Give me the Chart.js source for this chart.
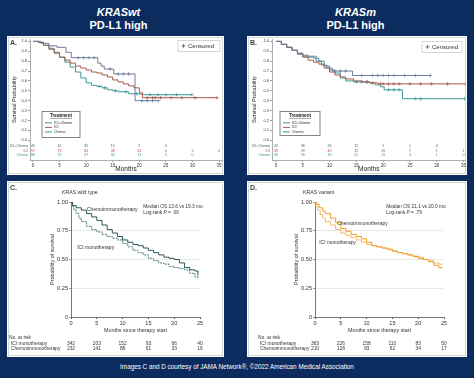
<!DOCTYPE html>
<html><head><meta charset="utf-8">
<script src="https://cdn.jsdelivr.net/npm/chart.js@4.4.1/dist/chart.umd.min.js"></script>
<style>
html,body{margin:0;padding:0}
body{width:474px;height:378px;background:#0c2b5e;position:relative;overflow:hidden;font-family:"Liberation Sans",Arial,sans-serif}
.box{position:absolute;background:#fff;outline:1px solid #d4d4d4;outline-offset:-2px}
.hd{position:absolute;color:#fff;font-weight:bold;font-size:11px;line-height:13px;text-align:center}
.lbl{position:absolute;font-size:7px;font-weight:bold;color:#444}
.sub{position:absolute;font-size:5.2px;color:#333}
canvas{position:absolute}
.foot{position:absolute;left:0;width:474px;top:362px;text-align:center;color:#fff;font-size:8px;line-height:10px;transform:scaleX(0.79);transform-origin:237px 0}
</style></head>
<body>
<div class="hd" style="left:0;top:6px;width:237px"><i>KRASwt</i><br>PD-L1 high</div>
<div class="hd" style="left:237px;top:6px;width:237px"><i>KRASm</i><br>PD-L1 high</div>
<div class="box" style="left:7px;top:36px;width:217px;height:139px"></div>
<div class="box" style="left:247px;top:36px;width:220px;height:139px"></div>
<div class="box" style="left:7px;top:181px;width:217px;height:176px"></div>
<div class="box" style="left:247px;top:181px;width:220px;height:176px"></div>
<canvas id="cA" width="217" height="139" style="left:7px;top:36px"></canvas>
<canvas id="cB" width="220" height="139" style="left:247px;top:36px"></canvas>
<canvas id="cC" width="217" height="176" style="left:7px;top:181px"></canvas>
<canvas id="cD" width="220" height="176" style="left:247px;top:181px"></canvas>
<div class="lbl" style="left:10px;top:39px">A.</div>
<div class="lbl" style="left:250px;top:39px">B.</div>
<div class="lbl" style="left:10px;top:184px">C.</div>
<div class="lbl" style="left:250px;top:184px">D.</div>
<div class="sub" style="left:62px;top:189px">KRAS wild type</div>
<div class="sub" style="left:303px;top:189px">KRAS variant</div>
<div class="foot">Images C and D courtesy of JAMA Network®, ©2022 American Medical Association</div>
<script>
// ---------- data ----------
const monthTicksAB = [0, 5, 10, 15, 20, 25, 30, 35];
const probTicksAB = [0, 0.1, 0.2, 0.3, 0.4, 0.5, 0.6, 0.7, 0.8, 0.9, 1.0];
const monthTicksCD = [0, 5, 10, 15, 20, 25];
const probTicksCD = [0, 0.25, 0.5, 0.75, 1.0];
const seriesAB = ['ICI+Chemo', 'ICI', 'Chemo'];
const seriesCD = ['ICI monotherapy', 'Chemoimmunotherapy'];

// Panel A (KRASwt, PD-L1 high)
const aIciChemoT = [0, 1.5, 3, 4.5, 6.2, 7.2, 12.2, 12.8, 13.4, 15.2, 19.2, 23.6];
const aIciChemoS = [1, 0.98, 0.955, 0.94, 0.89, 0.835, 0.78, 0.75, 0.72, 0.67, 0.40, 0.40];
const aIciT = [0, 1, 2, 3, 4, 5, 6, 7, 8, 9, 10, 11, 12, 13, 14, 15, 16, 17, 18, 19, 20, 20.6, 34.6];
const aIciS = [1, 0.99, 0.96, 0.92, 0.88, 0.84, 0.81, 0.78, 0.75, 0.73, 0.71, 0.69, 0.68, 0.66, 0.64, 0.61, 0.59, 0.57, 0.55, 0.53, 0.48, 0.43, 0.43];
const aChemoT = [0, 1, 2, 3, 4, 5, 6, 7, 8, 9, 10, 11, 12, 13, 14, 15, 16, 18, 20, 21, 29.9];
const aChemoS = [1, 0.99, 0.96, 0.93, 0.89, 0.84, 0.79, 0.74, 0.69, 0.63, 0.58, 0.555, 0.545, 0.53, 0.51, 0.50, 0.49, 0.47, 0.465, 0.46, 0.46];
const aIciChemoCens = [8.5, 9.5, 10.5, 11.5, 14.5, 16, 17, 18, 20.5, 21.5, 22.5, 23.6];
const aIciCens = [21.5, 22.5, 23, 24, 26, 28, 30.5, 34.6];
const aChemoCens = [12.5, 13.5, 15.5, 17.5, 19.5, 22, 23.5, 25, 27, 29.9];
const aRiskIciChemo = [45, 42, 35, 15, 2, 0];
const aRiskIci = [97, 79, 65, 48, 24, 5, 2, 0];
const aRiskChemo = [86, 72, 47, 30, 13, 3, 0];

// Panel B (KRASm, PD-L1 high)
const bIciChemoT = [0, 1, 2, 3, 4, 5, 6, 7.5, 8.5, 9.5, 10.5, 14.3, 28.8];
const bIciChemoS = [1, 0.97, 0.94, 0.91, 0.88, 0.86, 0.85, 0.80, 0.76, 0.73, 0.70, 0.655, 0.655];
const bIciT = [0, 1, 2, 3, 4, 5, 6, 7, 8, 9, 10, 11, 12, 13, 14.5, 16, 17.5, 19, 35.5];
const bIciS = [1, 0.97, 0.94, 0.91, 0.87, 0.84, 0.81, 0.79, 0.77, 0.73, 0.69, 0.66, 0.64, 0.62, 0.60, 0.59, 0.58, 0.57, 0.57];
const bChemoT = [0, 1, 2, 3, 4, 5, 6, 7, 8, 9, 10, 11, 12, 13, 14.5, 17.5, 18.5, 19.5, 20.2, 23.6, 35.2];
const bChemoS = [1, 0.97, 0.94, 0.91, 0.88, 0.85, 0.84, 0.83, 0.80, 0.75, 0.71, 0.68, 0.63, 0.60, 0.59, 0.58, 0.56, 0.54, 0.51, 0.42, 0.42];
const bIciChemoCens = [11, 12, 13, 16, 18, 19, 20, 21, 22, 24, 26, 28.8];
const bIciCens = [17, 18, 19.5, 20, 21, 22, 23, 25, 27, 29, 32, 35.5];
const bChemoCens = [15, 16, 17, 21, 22, 23, 26, 27, 35.2];
const bRiskIciChemo = [42, 36, 26, 12, 5, 1, 0];
const bRiskIci = [59, 49, 40, 32, 20, 7, 1, 1];
const bRiskChemo = [69, 56, 43, 25, 15, 4, 1, 0];

// Panel C (KRAS wild type)
const cChemoT = [0, 0.3, 1, 2, 3, 4, 5, 6, 7, 8, 9, 10, 11, 12, 13, 14, 15, 16, 17, 18, 19, 20, 21, 22, 23, 24, 24.6];
const cChemoS = [1, 0.97, 0.95, 0.93, 0.90, 0.87, 0.84, 0.80, 0.76, 0.73, 0.70, 0.67, 0.65, 0.63, 0.62, 0.60, 0.58, 0.56, 0.54, 0.52, 0.51, 0.50, 0.47, 0.43, 0.41, 0.40, 0.36];
const cIciT = [0, 0.3, 0.6, 1, 1.5, 2, 3, 4, 5, 6, 7, 8, 9, 10, 11, 12, 13, 14, 15, 16, 17, 18, 19, 20, 21, 22, 23, 24, 24.6];
const cIciS = [1, 0.96, 0.93, 0.90, 0.86, 0.83, 0.79, 0.76, 0.74, 0.72, 0.70, 0.685, 0.67, 0.64, 0.61, 0.58, 0.56, 0.54, 0.51, 0.49, 0.47, 0.46, 0.44, 0.43, 0.42, 0.41, 0.38, 0.35, 0.33];
const cRiskIci = [342, 203, 152, 93, 66, 40];
const cRiskChemo = [232, 141, 88, 61, 33, 16];

// Panel D (KRAS variant)
const dChemoT = [0, 0.3, 0.8, 1.5, 2, 3, 4, 5, 6, 7, 8, 9, 10, 11, 12, 13, 14, 15, 16, 17, 18, 19, 20, 21, 22, 23, 24, 24.6];
const dChemoS = [1, 0.98, 0.95, 0.92, 0.90, 0.86, 0.82, 0.77, 0.745, 0.72, 0.70, 0.68, 0.65, 0.62, 0.61, 0.60, 0.59, 0.575, 0.56, 0.55, 0.54, 0.525, 0.51, 0.50, 0.48, 0.45, 0.43, 0.42];
const dIciT = [0, 0.2, 0.5, 1, 1.5, 2, 3, 4, 5, 6, 7, 8, 9, 10, 11, 12, 13, 14, 15, 16, 17, 18, 19, 20, 21, 22, 23, 24, 24.6];
const dIciS = [1, 0.96, 0.93, 0.89, 0.86, 0.83, 0.80, 0.76, 0.73, 0.71, 0.69, 0.67, 0.65, 0.63, 0.62, 0.61, 0.60, 0.585, 0.57, 0.56, 0.55, 0.54, 0.53, 0.52, 0.50, 0.49, 0.47, 0.46, 0.455];
const dRiskIci = [363, 226, 158, 110, 83, 50];
const dRiskChemo = [210, 128, 93, 62, 34, 17];

// ---------- helpers ----------
const FONT = '"Liberation Sans", Arial, sans-serif';
const COL_GRAY = '#6f7c9a', COL_RED = '#a8574b', COL_TEAL = '#3c9a9a';
const COL_C1 = '#2c5759', COL_C2 = '#4d7b7b', COL_D1 = '#ee9d2a', COL_D2 = '#f6bd6a';

function pts(T, S) { return T.map((t, i) => ({x: t, y: S[i]})); }
function survAt(T, S, t) { let v = S[0]; for (let i = 0; i < T.length; i++) if (T[i] <= t) v = S[i]; return v; }
function cens(T, S, C) { return C.map(t => ({x: t, y: survAt(T, S, t)})); }
function line(label, T, S, color, dash) {
  return {label, data: pts(T, S), borderColor: color, borderWidth: 1, stepped: true, pointRadius: 0, fill: false, borderDash: dash || []};
}
function censSet(T, S, C, color) {
  return {label: 'cens', data: cens(T, S, C), showLine: false, pointStyle: 'cross', pointRadius: 1.8, borderColor: color, borderWidth: 0.7};
}

function abPlugin(key, rows, leg, cbox) {
  return {id: 'ab' + key, afterDraw(chart) {
    const {ctx, scales: {x, y}, chartArea: ca} = chart;
    ctx.save();
    const base = y.getPixelForValue(0);
    ctx.textBaseline = 'middle';
    rows.forEach((r, ri) => {
      const py = base + 6 + ri * 4.5;
      ctx.fillStyle = r.color;
      ctx.font = '3.6px ' + FONT;
      ctx.textAlign = 'right';
      ctx.fillText(r.name, ca.left - 2, py);
      ctx.textAlign = 'center';
      r.values.forEach((v, i) => ctx.fillText(String(v), x.getPixelForValue(monthTicksAB[i]), py));
    });
    // Treatment legend
    const lx = ca.left + leg.dx, ly = ca.top + leg.dy;
    ctx.fillStyle = '#fff'; ctx.strokeStyle = '#666'; ctx.lineWidth = 0.8;
    ctx.fillRect(lx, ly, leg.w, leg.h); ctx.strokeRect(lx, ly, leg.w, leg.h);
    ctx.fillStyle = '#222'; ctx.font = 'bold 4.6px ' + FONT; ctx.textAlign = 'center';
    ctx.fillText('Treatment', lx + leg.w / 2, ly + 4.5);
    const tw = ctx.measureText('Treatment').width;
    ctx.strokeStyle = '#222'; ctx.lineWidth = 0.4;
    ctx.beginPath(); ctx.moveTo(lx + leg.w / 2 - tw / 2, ly + 7); ctx.lineTo(lx + leg.w / 2 + tw / 2, ly + 7); ctx.stroke();
    ctx.font = '3.6px ' + FONT; ctx.textAlign = 'left';
    chart.data.datasets.filter(d => d.label !== 'cens').forEach((d, i) => {
      const py = ly + 11.5 + i * 4.5;
      ctx.strokeStyle = d.borderColor; ctx.lineWidth = 1;
      ctx.beginPath(); ctx.moveTo(lx + 3, py); ctx.lineTo(lx + 10, py); ctx.stroke();
      ctx.fillStyle = '#222'; ctx.fillText(d.label, lx + 12, py);
    });
    // Censored box
    const cx = ca.left + cbox.dx, cy = ca.top + cbox.dy;
    ctx.fillStyle = '#fff'; ctx.strokeStyle = '#bbb'; ctx.lineWidth = 0.6;
    ctx.fillRect(cx, cy, cbox.w, 11); ctx.strokeRect(cx, cy, cbox.w, 11);
    ctx.strokeStyle = '#444'; ctx.lineWidth = 0.7;
    ctx.beginPath(); ctx.moveTo(cx + 3.5, cy + 5.5); ctx.lineTo(cx + 7.5, cy + 5.5); ctx.moveTo(cx + 5.5, cy + 3.5); ctx.lineTo(cx + 5.5, cy + 7.5); ctx.stroke();
    ctx.fillStyle = '#333'; ctx.font = '6px ' + FONT; ctx.textAlign = 'left';
    ctx.fillText('Censored', cx + 10, cy + 5.8);
    ctx.restore();
  }};
}

function cdPlugin(key, rowX, rows, notes) {
  return {id: 'cd' + key, afterDraw(chart) {
    const {ctx, scales: {x, y}} = chart;
    ctx.save();
    ctx.fillStyle = '#333'; ctx.textBaseline = 'middle';
    notes.forEach(n => {
      let px = x.getPixelForValue(n.x); const py = y.getPixelForValue(n.y);
      ctx.textAlign = 'left';
      n.parts.forEach(p => {
        ctx.font = (p.i ? 'italic ' : '') + n.size + 'px ' + FONT;
        ctx.fillText(p.t, px, py);
        px += ctx.measureText(p.t).width;
      });
    });
    const base = y.getPixelForValue(0);
    ctx.font = '4.9px ' + FONT;
    ctx.textAlign = 'left';
    ctx.fillText('No. at risk', rowX - 2, base + 21);
    rows.forEach((r, ri) => {
      const py = base + 27 + ri * 4.6;
      ctx.textAlign = 'left'; ctx.fillText(r.name, rowX, py);
      ctx.textAlign = 'center';
      r.values.forEach((v, i) => ctx.fillText(String(v), x.getPixelForValue(monthTicksCD[i]), py));
    });
    ctx.restore();
  }};
}

function make(id, datasets, scales, padding, plugin) {
  return new Chart(document.getElementById(id), {
    type: 'line',
    data: {datasets},
    options: {
      responsive: false, animation: false, events: [],
      layout: {autoPadding: false, padding},
      plugins: {legend: {display: false}, tooltip: {enabled: false}},
      scales
    },
    plugins: [plugin]
  });
}

function abScales(xmin, xmax, yw) {
  return {
    x: {type: 'linear', min: xmin, max: xmax,
      afterBuildTicks: a => { a.ticks = monthTicksAB.map(v => ({value: v})); },
      afterFit: a => { a.height = 15; },
      grid: {drawOnChartArea: false, drawTicks: true, tickLength: 2, color: '#999'},
      border: {color: '#999', width: 0.8},
      ticks: {font: {size: 4.5, family: FONT}, color: '#333', padding: 1, maxRotation: 0, autoSkip: false},
      title: {display: true, text: 'Months', font: {size: 6.5, family: FONT}, color: '#222', padding: {top: 0, bottom: 2}}},
    y: {type: 'linear', min: -0.2, max: 1.02,
      afterBuildTicks: a => { a.ticks = probTicksAB.map(v => ({value: v})); },
      afterFit: a => { a.width = yw; },
      grid: {drawOnChartArea: false, tickLength: 2, color: c => (c.tick && c.tick.value < 0) ? 'rgba(0,0,0,0)' : '#999'},
      border: {color: '#999', width: 0.8},
      ticks: {font: {size: 4, family: FONT}, color: '#444', padding: 1, callback: v => v < -0.001 ? '' : v.toFixed(1)},
      title: {display: true, text: 'Survival Probability', font: {size: 5.5, family: FONT}, color: '#222', padding: {top: 4, bottom: 0}}}
  };
}

function cdScales(yTitlePad) {
  return {
    x: {type: 'linear', min: 0, max: 25,
      afterBuildTicks: a => { a.ticks = monthTicksCD.map(v => ({value: v})); },
      afterFit: a => { a.height = 40; },
      grid: {drawOnChartArea: false, drawTicks: true, tickLength: 2, color: '#555'},
      border: {color: '#555', width: 0.8},
      ticks: {font: {size: 5.6, family: FONT}, color: '#333', padding: 1, maxRotation: 0, autoSkip: false},
      title: {display: true, text: 'Months since therapy start', font: {size: 5.4, family: FONT}, color: '#333', padding: {top: 0, bottom: 23}}},
    y: {type: 'linear', min: 0, max: 1,
      afterBuildTicks: a => { a.ticks = probTicksCD.map(v => ({value: v})); },
      afterFit: a => { a.width = yTitlePad.w; },
      grid: {drawOnChartArea: true, tickLength: 2, color: c => (c.tick && c.tick.value > 0 && c.tick.value < 1) ? '#dcdcdc' : 'rgba(0,0,0,0)', tickColor: '#555', lineWidth: 0.6},
      border: {color: '#555', width: 0.8},
      ticks: {font: {size: 5.6, family: FONT}, color: '#333', padding: 1, callback: v => v === 0 ? '0' : v.toFixed(2)},
      title: {display: true, text: 'Probability of survival', font: {size: 5.4, family: FONT}, color: '#333', padding: {top: yTitlePad.p, bottom: 0}}}
  };
}

// Panel A
make('cA', [
  line(seriesAB[0], aIciChemoT, aIciChemoS, COL_GRAY),
  line(seriesAB[1], aIciT, aIciS, COL_RED),
  line(seriesAB[2], aChemoT, aChemoS, COL_TEAL),
  censSet(aIciChemoT, aIciChemoS, aIciChemoCens, COL_GRAY),
  censSet(aIciT, aIciS, aIciCens, COL_RED),
  censSet(aChemoT, aChemoS, aChemoCens, COL_TEAL)
], abScales(-0.56, 35.56, 23), {top: 1, right: 2, left: 0, bottom: 0},
abPlugin('A', [
  {name: seriesAB[0], color: '#555b6e', values: aRiskIciChemo},
  {name: seriesAB[1], color: '#b04a3c', values: aRiskIci},
  {name: seriesAB[2], color: '#3a9494', values: aRiskChemo}
], {dx: 12, dy: 72, w: 38, h: 26}, {dx: 148, dy: 1, w: 42}));

// Panel B
make('cB', [
  line(seriesAB[0], bIciChemoT, bIciChemoS, COL_GRAY),
  line(seriesAB[1], bIciT, bIciS, COL_RED),
  line(seriesAB[2], bChemoT, bChemoS, COL_TEAL),
  censSet(bIciChemoT, bIciChemoS, bIciChemoCens, COL_GRAY),
  censSet(bIciT, bIciS, bIciCens, COL_RED),
  censSet(bChemoT, bChemoS, bChemoCens, COL_TEAL)
], abScales(-0.745, 35.38, 25), {top: 1, right: 1, left: 0, bottom: 0},
abPlugin('B', [
  {name: seriesAB[0], color: '#555b6e', values: bRiskIciChemo},
  {name: seriesAB[1], color: '#b04a3c', values: bRiskIci},
  {name: seriesAB[2], color: '#3a9494', values: bRiskChemo}
], {dx: 8, dy: 72, w: 40, h: 24}, {dx: 150, dy: 2, w: 40}));

// Panel C
make('cC', [
  line(seriesCD[1], cChemoT, cChemoS, COL_C1),
  line(seriesCD[0], cIciT, cIciS, COL_C2, [2, 1])
], cdScales({w: 64, p: 42}), {top: 21, right: 24, left: 0, bottom: 0},
cdPlugin('C', 4, [
  {name: seriesCD[0], values: cRiskIci},
  {name: seriesCD[1], values: cRiskChemo}
], [
  {x: 3.1, y: 0.93, size: 5, parts: [{t: 'Chemoimmunotherapy'}]},
  {x: 1.2, y: 0.60, size: 5, parts: [{t: 'ICI monotherapy'}]},
  {x: 14.0, y: 0.957, size: 4.8, parts: [{t: 'Median OS 13.6 vs 19.3 mo'}]},
  {x: 14.0, y: 0.905, size: 4.8, parts: [{t: 'Log-rank '}, {t: 'P', i: true}, {t: ' = .06'}]}
]));

// Panel D
make('cD', [
  line(seriesCD[1], dChemoT, dChemoS, COL_D1),
  line(seriesCD[0], dIciT, dIciS, COL_D2)
], cdScales({w: 68, p: 46}), {top: 21, right: 23, left: 0, bottom: 0},
cdPlugin('D', 13, [
  {name: seriesCD[0], values: dRiskIci},
  {name: seriesCD[1], values: dRiskChemo}
], [
  {x: 4.3, y: 0.81, size: 5, parts: [{t: 'Chemoimmunotherapy'}]},
  {x: 0.8, y: 0.645, size: 5, parts: [{t: 'ICI monotherapy'}]},
  {x: 13.8, y: 0.957, size: 4.8, parts: [{t: 'Median OS 21.1 vs 20.0 mo'}]},
  {x: 13.8, y: 0.905, size: 4.8, parts: [{t: 'Log-rank '}, {t: 'P', i: true}, {t: ' = .79'}]}
]));
</script>
</body></html>
